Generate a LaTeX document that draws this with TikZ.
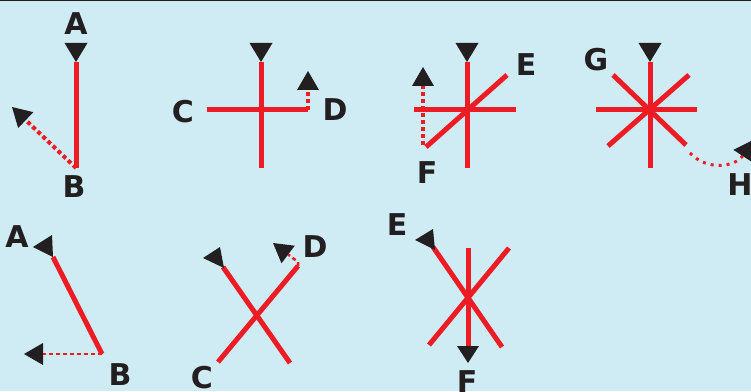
\documentclass[tikz,border=0pt]{standalone}
\usepackage{fontspec}
\setmainfont{DejaVu Sans}
\usetikzlibrary{arrows.meta}
\definecolor{sky}{HTML}{CFEBF3}
\definecolor{stickred}{HTML}{ED1C24}
\definecolor{ink}{HTML}{231F20}

\begin{document}
\begin{tikzpicture}[
  x=1pt, y=1pt,
  stick/.style={draw=stickred, line width=5pt},
  trace/.style={draw=stickred, line width=4pt, dash pattern=on 4pt off 3pt,
    -{Triangle[color=ink, fill=ink, length=19pt, width=22pt, line width=0pt]}},
  finetrace/.style={trace, line width=2.5pt},
  flag/.style={fill=ink},
  tag/.style={font=\bfseries\fontsize{30}{30}\selectfont, text=ink, inner sep=0pt}
]
  \useasboundingbox (0,0) rectangle (751,391);
  \clip (0,0) rectangle (751,391);
  \fill[sky] (0,0) rectangle (751,391);
  \fill[ink] (0,389.5) rectangle (751,391);

  % upper row
  \begin{scope}[shift={(76,223)}]
    \coordinate (A1) at (0,106);
    \coordinate (B1) at (0,0);
    \coordinate (T1) at (-64,61);
    \draw[stick] (A1) -- (B1);
    \draw[trace] (B1) -- (T1);
    \fill[flag] (A1) -- ++(-11.5,19) -- ++(23,0) -- cycle;
    \node[tag] (lA1) at (0,144) {A};
    \node[tag] (lB1) at (-2,-19) {B};
  \end{scope}

  \begin{scope}[shift={(261,281)}]
    \coordinate (N2) at (0,48);
    \coordinate (S2) at (0,-58);
    \coordinate (W2) at (-54,0);
    \coordinate (E2) at (47,0);
    \coordinate (T2) at (47,39);
    \draw[stick] (N2) -- (S2);
    \draw[stick] (W2) -- (E2);
    \draw[trace] (E2) -- (T2);
    \fill[flag] (N2) -- ++(-11.5,19) -- ++(23,0) -- cycle;
    \node[tag] (lC2) at (-78,-2) {C};
    \node[tag] (lD2) at (74,0) {D};
  \end{scope}

  \begin{scope}[shift={(467,281)}]
    \coordinate (N3) at (0,48);
    \coordinate (S3) at (0,-58);
    \coordinate (W3) at (-53,0);
    \coordinate (E3) at (49,0);
    \coordinate (SW3) at (-41,-37);
    \coordinate (NE3) at (40,35);
    \coordinate (F3) at (-44,-35);
    \coordinate (T3) at (-44,43);
    \draw[stick] (N3) -- (S3);
    \draw[stick] (W3) -- (E3);
    \draw[stick] (SW3) -- (NE3);
    \draw[trace] (F3) -- (T3);
    \fill[flag] (N3) -- ++(-11.5,19) -- ++(23,0) -- cycle;
    \node[tag] (lE3) at (59,45) {E};
    \node[tag] (lF3) at (-40,-63) {F};
  \end{scope}

  \begin{scope}[shift={(650,281)}]
    \coordinate (N4) at (0,48);
    \coordinate (S4) at (0,-58);
    \coordinate (W4) at (-54,0);
    \coordinate (E4) at (47,0);
    \coordinate (NW4) at (-37,35);
    \coordinate (SE4) at (36,-35);
    \coordinate (NE4) at (39,35);
    \coordinate (SW4) at (-42,-36);
    \coordinate (G4) at (40,-43);
    \coordinate (T4) at (103,-30);
    \draw[stick] (N4) -- (S4);
    \draw[stick] (W4) -- (E4);
    \draw[stick] (NW4) -- (SE4);
    \draw[stick] (NE4) -- (SW4);
    \draw[trace, line width=3pt, dash pattern=on 3pt off 5pt]
      (G4) .. controls (58,-62) and (86,-56) .. (T4);
    \fill[flag] (N4) -- ++(-11.5,19) -- ++(23,0) -- cycle;
    \node[tag] (lG4) at (-54,50) {G};
    \node[tag] (lH4) at (90,-75) {H};
  \end{scope}

  % lower row
  \begin{scope}[shift={(102,37)}]
    \coordinate (A5) at (-49,97);
    \coordinate (B5) at (0,0);
    \coordinate (T5) at (-78,0);
    \draw[stick] (A5) -- (B5);
    \draw[finetrace] (B5) -- (T5);
    \fill[flag] (-69,107) -- (-50,119) -- (-49,97) -- cycle;
    \node[tag] (lA5) at (-85,117) {A};
    \node[tag] (lB5) at (18,-21) {B};
  \end{scope}

  \begin{scope}[shift={(257,76)}]
    \coordinate (P6) at (-34,48);
    \coordinate (Q6) at (33,-48);
    \coordinate (C6) at (-39,-47);
    \coordinate (D6) at (41,49);
    \coordinate (T6) at (16,72);
    \draw[stick] (P6) -- (Q6);
    \draw[stick] (C6) -- (D6);
    \draw[finetrace] (D6) -- ++(0,4) -- (T6);
    \fill[flag] (-54,57) -- (-37,68) -- (-33,47) -- cycle;
    \node[tag] (lD6) at (58,68) {D};
    \node[tag] (lC6) at (-55,-63) {C};
  \end{scope}

  \begin{scope}[shift={(468,94)}]
    \coordinate (N7) at (0,49);
    \coordinate (S7) at (0,-49);
    \coordinate (E7) at (-35,50);
    \coordinate (P7) at (34,-50);
    \coordinate (Q7) at (41,49);
    \coordinate (R7) at (-39,-48);
    \draw[stick] (N7) -- (S7);
    \draw[stick] (E7) -- (P7);
    \draw[stick] (Q7) -- (R7);
    \fill[flag] (S7) ++(-11,0) -- ++(22,0) -- ++(-11,-17) -- cycle;
    \fill[flag] (-53,57) -- (-35,68) -- (-33,47) -- cycle;
    \node[tag] (lE7) at (-71,72) {E};
    \node[tag] (lF7) at (-1,-85) {F};
  \end{scope}
\end{tikzpicture}
\end{document}
